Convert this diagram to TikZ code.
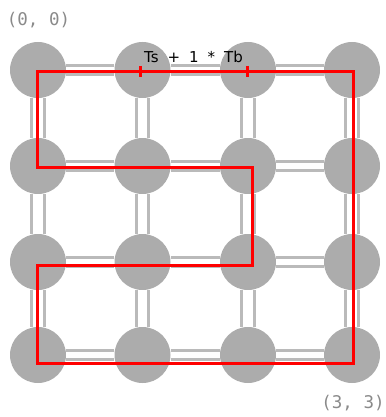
\documentclass[tikz,border=0pt]{standalone}
\usepackage{fontspec}
\setsansfont{DejaVu Sans}
\setmonofont{DejaVu Sans Mono}

\definecolor{routergray}{RGB}{172,172,172}
\definecolor{linkgray}{RGB}{186,186,186}
\definecolor{labelgray}{RGB}{138,138,138}

\begin{document}
\begin{tikzpicture}[x=1pt, y=-1pt,
  router/.style={circle, fill=routergray, minimum size=56pt, inner sep=0pt},
  hlink/.style={draw=linkgray, line width=3pt, double=white, double distance=5.5pt},
  vlink/.style={draw=linkgray, line width=3pt, double=white, double distance=9.5pt},
  route/.style={draw=red, line width=3pt},
  coordlabel/.style={text=labelgray, font=\ttfamily\fontsize{17.5}{20}\selectfont}]
  \useasboundingbox (0,0) rectangle (385,417);
  % 4x4 mesh of routers
  \foreach \i/\x in {0/38,1/142.5,2/248,3/352}
    \foreach \j/\y in {0/70,1/166,2/262,3/355}
      \node[router] (n\i\j) at (\x,\y) {};
  \foreach \i/\k in {0/1,1/2,2/3}
    \foreach \j in {0,...,3} {
      \draw[hlink] (n\i\j) -- (n\k\j);
      \draw[vlink] (n\j\i) -- (n\j\k);
    }
  % route taken by the packet
  \coordinate (r0) at (37,71.5);
  \coordinate (r1) at (353,71.5);
  \coordinate (r2) at (353,363);
  \coordinate (r3) at (37,363);
  \coordinate (r4) at (37,265);
  \coordinate (r5) at (252,265);
  \coordinate (r6) at (252,167);
  \coordinate (r7) at (37,167);
  \draw[route] (r0) -- (r1) -- (r2) -- (r3) -- (r4) -- (r5) -- (r6) -- (r7) -- cycle;
  \draw[route] (140,66) -- (140,77);
  \draw[route] (247,66) -- (247,77);
  \node[font={\sffamily\fontsize{15}{18}\selectfont\spaceskip=9pt\relax}, anchor=base] (cost) at (193.5,63) {Ts + 1 * Tb};
  \node[coordlabel] (first) at (38.5,20) {(0, 0)};
  \node[coordlabel] (last) at (353,403) {(3, 3)};
\end{tikzpicture}
\end{document}
